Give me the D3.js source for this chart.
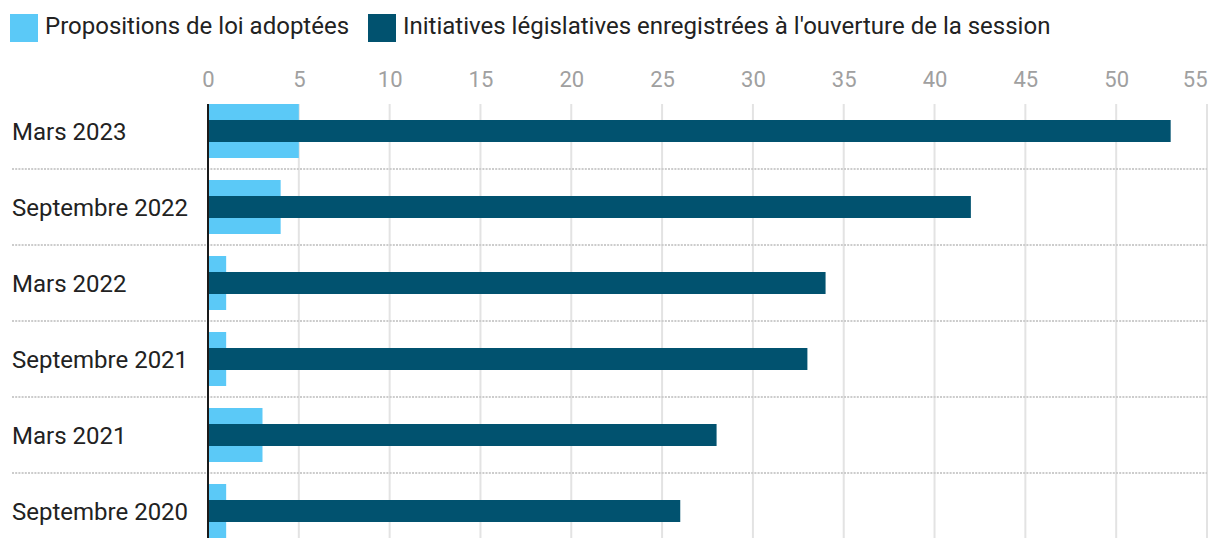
<!DOCTYPE html>
<html><head><meta charset="utf-8">
<script src="https://cdn.jsdelivr.net/npm/d3@7"></script>
<style>body{margin:0;background:#fff;}svg{display:block;font-family:Roboto,sans-serif;}</style>
</head><body><svg id="c" width="1220" height="550"></svg>
<script>
const categories = ["Mars 2023","Septembre 2022","Mars 2022","Septembre 2021","Mars 2021","Septembre 2020"];
const adoptees = [5,4,1,1,3,1];
const initiatives = [53,42,34,33,28,26];
const tickValues = [0,5,10,15,20,25,30,35,40,45,50,55];
const seriesNames = ["Propositions de loi adoptées","Initiatives législatives enregistrées à l'ouverture de la session"];
const colors = ["#5BC9F7","#01526F"];

const svg = d3.select("#c");
const x = d3.scaleLinear().domain([0,55]).range([208,1207]);
const y = d3.scaleBand().domain(categories).range([104,538]).paddingInner(0.2895).paddingOuter(0);

// gridlines
svg.append("g").selectAll("line").data(tickValues.slice(1)).join("line")
  .attr("x1",d=>x(d)).attr("x2",d=>x(d)).attr("y1",104).attr("y2",538)
  .attr("stroke","#e3e3e3").attr("stroke-width",2);

// separators
const step = y.step(), bw = y.bandwidth();
svg.append("g").selectAll("line").data(categories.slice(1)).join("line")
  .attr("x1",12).attr("x2",1207)
  .attr("y1",d=>y(d)-(step-bw)/2).attr("y2",d=>y(d)-(step-bw)/2)
  .attr("stroke","#cccccc").attr("stroke-width",2).attr("stroke-dasharray","2,1.2");

// axis tick labels
const axis = d3.axisTop(x).tickValues(tickValues).tickSize(0).tickPadding(0);
const ag = svg.append("g").attr("transform","translate(0,87)").call(axis);
ag.select(".domain").remove();
ag.selectAll("text").attr("fill","#a0a0a0").style("font-size","22px").style("font-family","Roboto").attr("dy","0");
ag.selectAll(".tick").filter(d=>d===55).select("text").attr("text-anchor","end");

// bars
svg.append("g").selectAll("rect").data(categories).join("rect")
  .attr("x",x(0)).attr("y",d=>y(d)).attr("height",bw)
  .attr("width",(d,i)=>x(adoptees[i])-x(0)).attr("fill",colors[0]);
const dh = bw*22/54;
svg.append("g").selectAll("rect").data(categories).join("rect")
  .attr("x",x(0)).attr("y",d=>y(d)+(bw-dh)/2).attr("height",dh)
  .attr("width",(d,i)=>x(initiatives[i])-x(0)).attr("fill",colors[1]);

// zero axis
svg.append("line").attr("x1",x(0)).attr("x2",x(0)).attr("y1",104).attr("y2",538)
  .attr("stroke","#1a1a1a").attr("stroke-width",2);

// category labels
svg.append("g").selectAll("text").data(categories).join("text")
  .attr("x",12).attr("y",d=>y(d)+bw/2).attr("dy","0.36em")
  .attr("fill","#222").style("font-size","24px").text(d=>d);

// legend
const lg = svg.append("g");
const lx = [10,368];
seriesNames.forEach((s,i)=>{
  lg.append("rect").attr("x",lx[i]).attr("y",14).attr("width",28).attr("height",28).attr("fill",colors[i]);
  lg.append("text").attr("x",lx[i]+35).attr("y",34).attr("fill","#222").style("font-size","24px").text(s);
});
</script></body></html>
